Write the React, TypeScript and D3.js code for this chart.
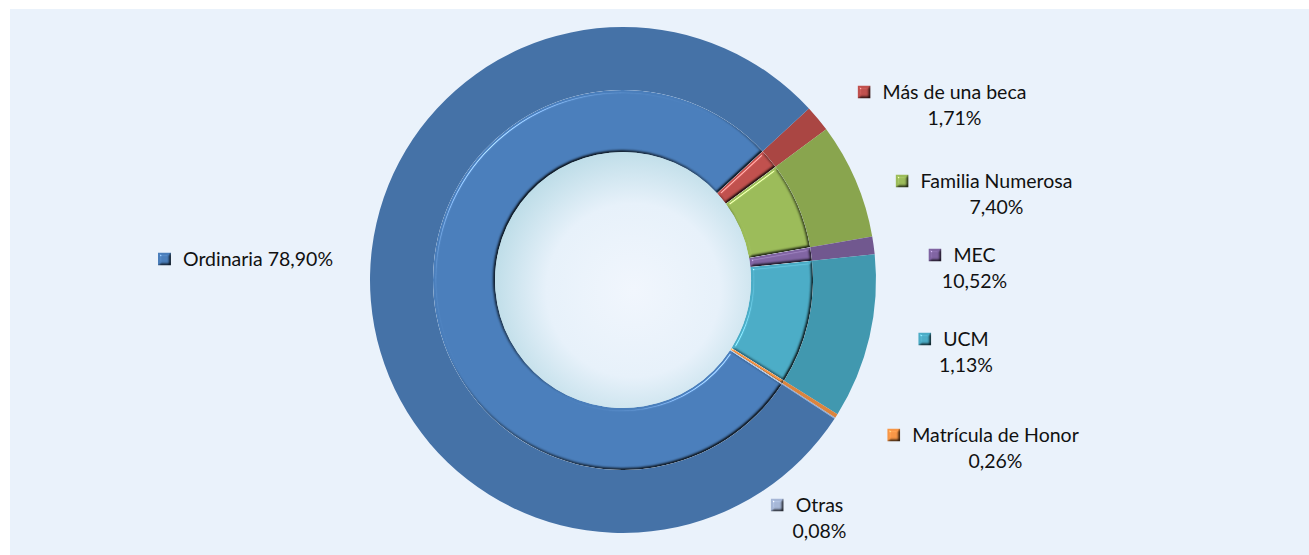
import React, { useEffect, useRef } from "react";
import * as d3 from "d3";

// categories in drawing order (clockwise from the first slice)
const categories = [
  "Más de una beca",
  "Familia Numerosa",
  "MEC",
  "UCM",
  "Matrícula de Honor",
  "Otras",
  "Ordinaria",
];
// outer ring series
const outerValues = [1.71, 7.4, 1.13, 10.52, 0.26, 0.08, 78.9];
// inner ring series
const innerValues = [1.71, 7.4, 1.13, 10.52, 0.26, 0.08, 78.9];
// the percentage texts printed on the labels
const labelValues = ["1,71%", "7,40%", "10,52%", "1,13%", "0,26%", "0,08%", "78,90%"];

const outerColors = ["#AA4643", "#89A54E", "#71588F", "#4198AF", "#DB843D", "#93A9CF", "#4572A7"];
const innerColors = ["#C0504D", "#9BBB59", "#8064A2", "#4BACC6", "#F79646", "#A5B6D6", "#4A7EBB"];

// label anchors: centre x of the name line, baseline of the name line
const labelPos: [number, number][] = [
  [954.5, 99],
  [996.5, 188],
  [974.5, 262],
  [966, 346],
  [995.5, 442],
  [819.5, 512],
  [258, 266],
];

const W = 1309;
const H = 555;

const App = () => {
  const svgRef = useRef<SVGSVGElement>(null);

  useEffect(() => {
    const svg = d3.select(svgRef.current);
    svg.selectAll("*").remove();

    const cx = 623;
    const cy = 280;
    const rHole = 128;
    const rMid = 190;
    const rOuter = 253;
    const start = (47.3 * Math.PI) / 180;

    const defs = svg.append("defs");

    // Excel-like bevel for the inner ring and the legend keys
    const f = defs
      .append("filter")
      .attr("id", "bevel")
      .attr("x", "-20%")
      .attr("y", "-20%")
      .attr("width", "140%")
      .attr("height", "140%")
      .attr("color-interpolation-filters", "sRGB");
    f.append("feGaussianBlur").attr("in", "SourceAlpha").attr("stdDeviation", 1.5).attr("result", "blur");
    f.append("feDiffuseLighting")
      .attr("in", "blur")
      .attr("surfaceScale", 2.5)
      .attr("diffuseConstant", 1.44)
      .attr("lighting-color", "#fff")
      .attr("result", "diff")
      .append("feDistantLight")
      .attr("azimuth", 225)
      .attr("elevation", 44);
    f.append("feSpecularLighting")
      .attr("in", "blur")
      .attr("surfaceScale", 3)
      .attr("specularConstant", 0.9)
      .attr("specularExponent", 45)
      .attr("lighting-color", "#fff")
      .attr("result", "spec")
      .append("feDistantLight")
      .attr("azimuth", 225)
      .attr("elevation", 40);
    f.append("feComposite")
      .attr("in", "SourceGraphic")
      .attr("in2", "diff")
      .attr("operator", "arithmetic")
      .attr("k1", 0.75)
      .attr("k2", 0.25)
      .attr("k3", 0)
      .attr("k4", 0)
      .attr("result", "lit");
    f.append("feComposite").attr("in", "spec").attr("in2", "SourceAlpha").attr("operator", "in").attr("result", "specIn");
    f.append("feComposite")
      .attr("in", "lit")
      .attr("in2", "specIn")
      .attr("operator", "arithmetic")
      .attr("k1", 0)
      .attr("k2", 1)
      .attr("k3", 0.45)
      .attr("k4", 0)
      .attr("result", "bev");
    f.append("feComposite").attr("in", "bev").attr("in2", "SourceAlpha").attr("operator", "in");

    const hole = defs
      .append("radialGradient")
      .attr("id", "hole")
      .attr("cx", "54%")
      .attr("cy", "54%")
      .attr("r", "56%");
    hole.append("stop").attr("offset", "0%").attr("stop-color", "#F1F6FD");
    hole.append("stop").attr("offset", "60%").attr("stop-color", "#E7F1FA");
    hole.append("stop").attr("offset", "100%").attr("stop-color", "#BCDCE7");

    // background
    svg.append("rect").attr("x", 10).attr("y", 9).attr("width", W - 10).attr("height", H - 9).attr("fill", "#EAF2FB");

    const pie = d3
      .pie<number>()
      .sort(null)
      .value((d) => d)
      .startAngle(start)
      .endAngle(start + 2 * Math.PI);

    const g = svg.append("g").attr("transform", `translate(${cx},${cy})`);

    // outer ring
    const outerArc = d3.arc<d3.PieArcDatum<number>>().innerRadius(rMid).outerRadius(rOuter);
    g.selectAll(".outer")
      .data(pie(outerValues))
      .enter()
      .append("path")
      .attr("class", "outer")
      .attr("d", outerArc)
      .attr("fill", (_, i) => outerColors[i]);

    // hole
    g.append("circle").attr("r", rHole + 1).attr("fill", "url(#hole)");

    // inner ring
    const innerArc = d3.arc<d3.PieArcDatum<number>>().innerRadius(rHole).outerRadius(rMid);
    g.selectAll(".inner")
      .data(pie(innerValues))
      .enter()
      .append("path")
      .attr("class", "inner")
      .attr("d", innerArc)
      .attr("fill", (_, i) => innerColors[i])
      .attr("filter", "url(#bevel)");

    // labels
    const font = "Lato, 'Noto Sans', sans-serif";
    const fs = 19.5;
    categories.forEach((name, i) => {
      const [x, y] = labelPos[i];
      const single = name === "Ordinaria";
      const t = svg
        .append("text")
        .attr("x", x)
        .attr("y", y)
        .attr("text-anchor", "middle")
        .attr("font-family", font)
        .attr("font-size", fs)
        .attr("fill", "#111")
        .text(single ? `${name} ${labelValues[i]}` : name);
      const len = (t.node() as SVGTextElement).getComputedTextLength();
      if (!single) {
        svg
          .append("text")
          .attr("x", x)
          .attr("y", y + 26)
          .attr("text-anchor", "middle")
          .attr("font-family", font)
          .attr("font-size", fs)
          .attr("fill", "#111")
          .text(labelValues[i]);
      }
      svg
        .append("rect")
        .attr("x", x - len / 2 - 25)
        .attr("y", y - 13.5)
        .attr("width", 13)
        .attr("height", 13)
        .attr("fill", innerColors[i])
        .attr("filter", "url(#bevel)");
    });
  }, []);

  return (
    <svg
      ref={svgRef}
      width={W}
      height={H}
      style={{ position: "absolute", left: 0, top: 0, display: "block" }}
    />
  );
};

export default App;
